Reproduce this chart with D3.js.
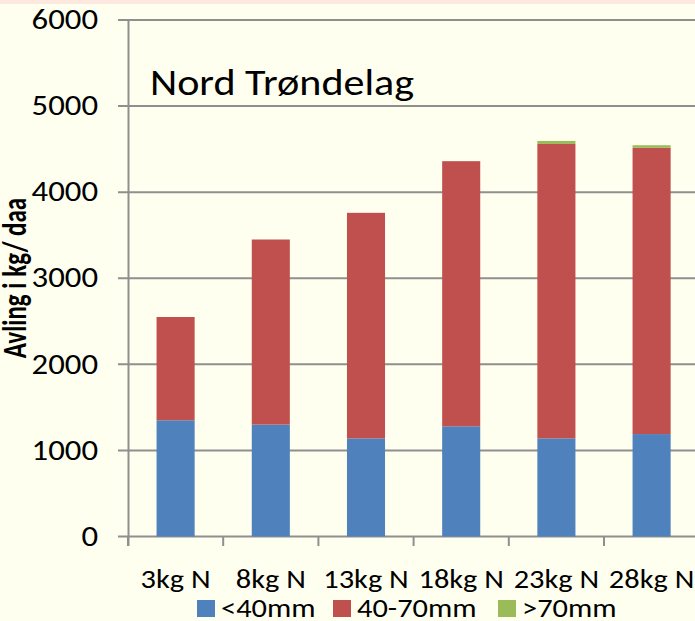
<!DOCTYPE html>
<html>
<head>
<meta charset="utf-8">
<script src="https://cdn.jsdelivr.net/npm/d3@7"></script>
<style>
  body { margin: 0; background: #fffff0; }
  svg { display: block; }
  text { font-family: Carlito, Calibri, 'Open Sans', sans-serif; fill: #000; }
</style>
</head>
<body>
<svg width="695" height="621"></svg>
<script>
// chart data
var categories = ['3kg N', '8kg N', '13kg N', '18kg N', '23kg N', '28kg N'];
var under40 = [1350, 1300, 1140, 1280, 1140, 1190];
var from40to70 = [1200, 2150, 2620, 3080, 3420, 3325];
var over70 = [0, 0, 0, 0, 35, 30];
var seriesNames = ['<40mm', '40-70mm', '>70mm'];
var yTicks = [0, 1000, 2000, 3000, 4000, 5000, 6000];

var colors = ['#4f81bd', '#c0504d', '#9bbb59'];
// the original text looks a bit wider than the font, stretch it sideways
var sx = 1.17;

var svg = d3.select('svg');

// thin pink strip on top
svg.append('rect').attr('x', 0).attr('y', 0).attr('width', 695).attr('height', 4).style('fill', '#fde9e0');

// scales
var x = d3.scaleBand().domain(categories).range([128, 128 + 6 * 95.2]).paddingInner(0.6).paddingOuter(0.3);
var y = d3.scaleLinear().domain([0, 6000]).range([536.5, 20]);

function place(px, py, s) {
  return 'translate(' + px + ',' + py + ') scale(' + (s || sx) + ',1)';
}

// gridlines + y ticks
svg.append('g')
  .selectAll('line')
  .data(yTicks)
  .enter()
  .append('line')
  .attr('x1', 118)
  .attr('x2', 695)
  .attr('y1', d => y(d))
  .attr('y2', d => y(d))
  .style('stroke', '#8f8f8f')
  .style('stroke-width', 2);

svg.append('g')
  .selectAll('text')
  .data(yTicks)
  .enter()
  .append('text')
  .attr('transform', d => place(98, y(d)))
  .attr('dy', '0.33em')
  .attr('text-anchor', 'end')
  .style('font-size', '28px')
  .text(d => d);

// stacked bars
var rows = categories.map((c, i) => ({ cat: c, a: under40[i], b: from40to70[i], c: over70[i] }));
var stack = d3.stack().keys(['a', 'b', 'c'])(rows);

svg.append('g')
  .selectAll('g')
  .data(stack)
  .enter()
  .append('g')
  .style('fill', (d, i) => colors[i])
  .selectAll('rect')
  .data(d => d)
  .enter()
  .append('rect')
  .attr('x', d => x(d.data.cat))
  .attr('width', x.bandwidth())
  .attr('y', d => y(d[1]))
  .attr('height', d => y(d[0]) - y(d[1]));

// y axis line
svg.append('line')
  .attr('x1', 128.5).attr('x2', 128.5)
  .attr('y1', 20).attr('y2', 546)
  .style('stroke', '#8f8f8f').style('stroke-width', 2);

// x ticks at band edges
var edges = categories.map(c => x(c) - x.step() * x.paddingOuter());
svg.append('g')
  .selectAll('line')
  .data(edges)
  .enter()
  .append('line')
  .attr('x1', d => d).attr('x2', d => d)
  .attr('y1', 536.5).attr('y2', 546)
  .style('stroke', '#8f8f8f').style('stroke-width', 2);

// x labels
svg.append('g')
  .selectAll('text')
  .data(categories)
  .enter()
  .append('text')
  .attr('transform', d => place(x(d) + x.bandwidth() / 2, 588))
  .attr('text-anchor', 'middle')
  .style('font-size', '26px')
  .text(d => d);

// title
svg.append('text')
  .attr('transform', place(150, 95))
  .style('font-size', '36px')
  .text('Nord Trøndelag');

// y axis title
svg.append('text')
  .attr('transform', place(15, 278, 1.4) + ' rotate(-90)')
  .attr('dy', '0.32em')
  .attr('text-anchor', 'middle')
  .style('font-size', '25px')
  .style('font-weight', 'bold')
  .text('Avling i kg/ daa');

// legend
var legendX = [197, 333, 498];
var legend = svg.append('g')
  .selectAll('g')
  .data(seriesNames)
  .enter()
  .append('g')
  .attr('transform', (d, i) => 'translate(' + legendX[i] + ',600)');

legend.append('rect')
  .attr('width', 18).attr('height', 17)
  .style('fill', (d, i) => colors[i]);

legend.append('text')
  .attr('transform', place(24, 16.5))
  .style('font-size', '26px')
  .text(d => d);
</script>
</body>
</html>
